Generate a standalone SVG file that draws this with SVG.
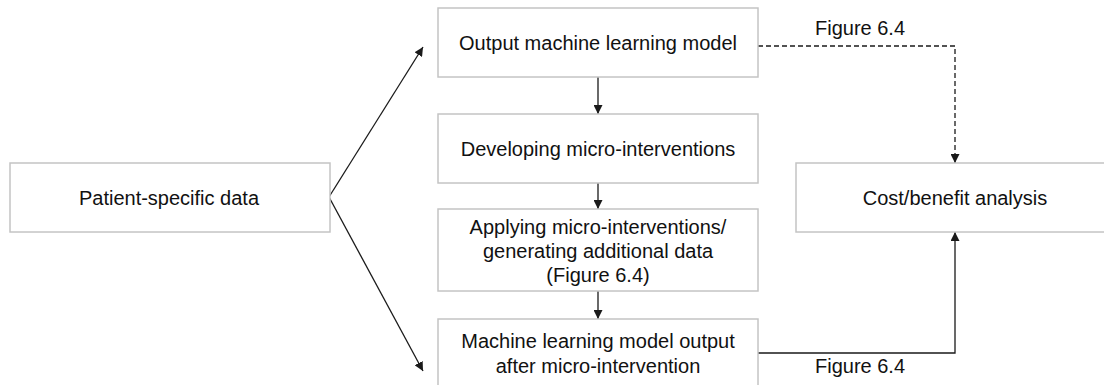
<svg xmlns="http://www.w3.org/2000/svg" width="1104" height="385" viewBox="0 0 1104 385">
  <style>
    .box { fill: #ffffff; stroke: #c4c4c4; stroke-width: 1.5; }
    .lbl { font-family: "Liberation Sans", Arial, sans-serif; font-size: 20px; fill: #111111; text-anchor: middle; }
    .wire { fill: none; stroke: #1a1a1a; stroke-width: 1.3; }
    .dash { stroke-dasharray: 5 3; }
  </style>
  <defs>
    <marker id="head" viewBox="0 0 10 10" refX="10" refY="5" markerWidth="9" markerHeight="9" markerUnits="userSpaceOnUse" orient="auto">
      <path d="M0,0 L10,5 L0,10 Z" fill="#1a1a1a"/>
    </marker>
  </defs>
  <rect width="1104" height="385" fill="#ffffff"/>

  <g id="connectors">
    <line class="wire" x1="329" y1="197" x2="423" y2="47" marker-end="url(#head)"/>
    <line class="wire" x1="329" y1="197" x2="423" y2="371" marker-end="url(#head)"/>
    <line class="wire" x1="598" y1="77" x2="598" y2="114" marker-end="url(#head)"/>
    <line class="wire" x1="598" y1="183" x2="598" y2="209" marker-end="url(#head)"/>
    <line class="wire" x1="598" y1="291" x2="598" y2="319" marker-end="url(#head)"/>
    <polyline class="wire dash" points="758,46 955,46 955,163" marker-end="url(#head)"/>
    <polyline class="wire" points="758,353 955,353 955,232" marker-end="url(#head)"/>
    <text class="lbl" x="860" y="35">Figure 6.4</text>
    <text class="lbl" x="860" y="373">Figure 6.4</text>
  </g>

  <g id="patient-data">
    <rect class="box" x="10" y="163" width="320" height="69"/>
    <text class="lbl" x="169" y="205">Patient-specific data</text>
  </g>
  <g id="output-model">
    <rect class="box" x="438" y="8" width="320" height="69"/>
    <text class="lbl" x="598" y="50">Output machine learning model</text>
  </g>
  <g id="developing">
    <rect class="box" x="438" y="114" width="320" height="69"/>
    <text class="lbl" x="598" y="156">Developing micro-interventions</text>
  </g>
  <g id="applying">
    <rect class="box" x="438" y="209" width="320" height="82"/>
    <text class="lbl" x="598" y="234">Applying micro-interventions/</text>
    <text class="lbl" x="598" y="258">generating additional data</text>
    <text class="lbl" x="598" y="282">(Figure 6.4)</text>
  </g>
  <g id="model-after">
    <rect class="box" x="438" y="319" width="320" height="72"/>
    <text class="lbl" x="598" y="348">Machine learning model output</text>
    <text class="lbl" x="598" y="373">after micro-intervention</text>
  </g>
  <g id="cost-benefit">
    <rect class="box" x="796" y="163" width="320" height="69"/>
    <text class="lbl" x="955" y="205">Cost/benefit analysis</text>
  </g>
</svg>
